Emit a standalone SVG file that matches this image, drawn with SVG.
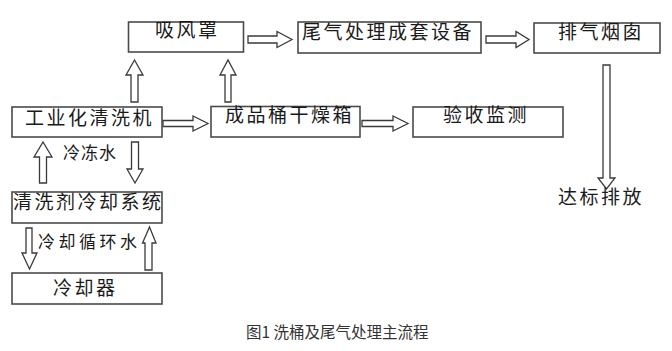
<svg xmlns="http://www.w3.org/2000/svg" width="672" height="351" viewBox="0 0 672 351">
<style>
.box{fill:#fff;stroke:#4a4a4a;stroke-width:1.6}
.t{font-family:"Noto Sans CJK SC","Noto Sans",sans-serif;font-size:19px;letter-spacing:2.5px;fill:#1a1a1a}
.s{font-family:"Noto Sans CJK SC","Noto Sans",sans-serif;font-size:17px;fill:#1a1a1a}
.cap{font-family:"Noto Sans CJK SC","Noto Sans",sans-serif;font-size:15.5px;fill:#333}
.ar{fill:#fff;stroke:#3a3a3a;stroke-width:1.3;stroke-linejoin:miter}
</style>
<rect width="672" height="351" fill="#fff"/>
<g id="connectors">
<polygon class="ar" points="248,36 277,36 277,31.5 292,39.5 277,47.5 277,43 248,43"/>
<polygon class="ar" points="486,36 516,36 516,31.5 529,39.5 516,47.5 516,43 486,43"/>
<polygon class="ar" points="163,120.5 193,120.5 193,116 208,123.5 193,131 193,126.5 163,126.5"/>
<polygon class="ar" points="362,120.5 393,120.5 393,116 408,123.5 393,131 393,126.5 362,126.5"/>
<polygon class="ar" points="131,102 131,75 126,75 134.5,60 143,75 138,75 138,102"/>
<polygon class="ar" points="225,102 225,75 220,75 228,60 236,75 231,75 231,102"/>
<polygon class="ar" points="39.5,183 39.5,157 34,157 43,142 52,157 46.5,157 46.5,183"/>
<polygon class="ar" points="131.5,142 138.5,142 138.5,169 143,169 135,183 127,169 131.5,169"/>
<polygon class="ar" points="26,228 32,228 32,253 37,253 29.5,269 22,253 26,253"/>
<polygon class="ar" points="145,270 145,243 142.5,243 149.5,227 156,243 152,243 152,270"/>
<polygon class="ar" points="603,65 610,65 610,178 615,178 606.5,189 598,178 603,178"/>
</g>
<g id="n-xifengzhao"><rect class="box" x="128.5" y="22" width="115" height="30"/><text class="t" x="155" y="37">吸风罩</text></g>
<g id="n-weiqi"><rect class="box" x="298" y="22" width="183" height="31"/><text class="t" x="302" y="39">尾气处理成套设备</text></g>
<g id="n-paiqi"><rect class="box" x="534" y="23" width="126" height="30"/><text class="t" x="558" y="39">排气烟囱</text></g>
<g id="n-qingxiji"><rect class="box" x="12" y="107" width="150" height="30"/><text class="t" x="25" y="124.5">工业化清洗机</text></g>
<g id="n-ganzao"><rect class="box" x="211" y="106.5" width="149" height="30.5"/><text class="t" x="225" y="121.5">成品桶干燥箱</text></g>
<g id="n-yanshou"><rect class="box" x="413" y="107" width="150" height="30"/><text class="t" x="443" y="122">验收监测</text></g>
<g id="n-lengque"><rect class="box" x="12" y="192" width="150" height="31"/><text class="t" x="13" y="208.5">清洗剂冷却系统</text></g>
<g id="n-lengqueqi"><rect class="box" x="12" y="273" width="150" height="31"/><text class="t" x="53" y="295">冷却器</text></g>
<g id="n-dabiao"><text class="t" x="558" y="204">达标排放</text></g>
<g id="labels">
<text class="s" x="63" y="159" letter-spacing="1">冷冻水</text>
<text class="s" x="38" y="248" letter-spacing="3.5">冷却循环水</text>
</g>
<text class="cap" x="246" y="337.5">图1 洗桶及尾气处理主流程</text>
</svg>
